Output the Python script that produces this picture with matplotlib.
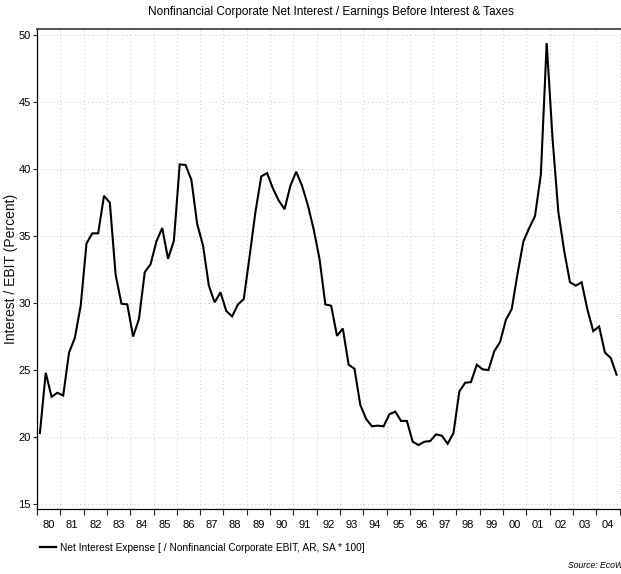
import matplotlib
matplotlib.use("Agg")
import matplotlib.pyplot as plt
from matplotlib import font_manager
from matplotlib.lines import Line2D
import numpy as np
import pandas as pd

# ---- data -------------------------------------------------------------
start_quarter = "1980Q1"
end_quarter = "2004Q4"
interest_to_ebit = [
    20.3, 24.8, 23.0, 23.3, 23.1, 26.3, 27.4, 29.8, 34.45, 35.2,
    35.2, 38.0, 37.5, 32.1, 29.95, 29.9, 27.5, 28.8, 32.3, 32.9,
    34.6, 35.6, 33.3, 34.65, 40.35, 40.3, 39.2, 35.9, 34.3, 31.3,
    30.05, 30.8, 29.4, 29.0, 29.9, 30.3, 33.5, 36.8, 39.45, 39.7,
    38.55, 37.65, 37.0, 38.75, 39.8, 38.75, 37.3, 35.5, 33.3, 29.9,
    29.8, 27.55, 28.1, 25.4, 25.1, 22.4, 21.35, 20.8, 20.85, 20.8,
    21.7, 21.9, 21.2, 21.2, 19.65, 19.4, 19.65, 19.7, 20.2, 20.1,
    19.5, 20.3, 23.4, 24.05, 24.1, 25.4, 25.05, 25.0, 26.4, 27.1,
    28.75, 29.55, 32.2, 34.6, 35.6, 36.5, 39.6, 49.4, 42.3, 36.8,
    33.9, 31.55, 31.3, 31.55, 29.5, 27.9, 28.25, 26.3, 25.9, 24.65,
]
year_ticks = list(range(1980, 2006))
year_labels = ["80", "81", "82", "83", "84", "85", "86", "87", "88", "89",
               "90", "91", "92", "93", "94", "95", "96", "97", "98", "99",
               "00", "01", "02", "03", "04"]
y_ticks = [15, 20, 25, 30, 35, 40, 45, 50]

title = "Nonfinancial Corporate Net Interest / Earnings Before Interest & Taxes"
ylabel = "Interest / EBIT (Percent)"
series_label = "Net Interest Expense [ / Nonfinancial Corporate EBIT, AR, SA * 100]"
source = "Source: EcoWin"

# ---- fonts ------------------------------------------------------------
names = {f.name for f in font_manager.fontManager.ttflist}
narrow = "Liberation Sans Narrow" if "Liberation Sans Narrow" in names else "Liberation Sans"
plt.rcParams["font.family"] = [narrow, "DejaVu Sans"]

# ---- figure -----------------------------------------------------------
W, H = 621, 574
fig = plt.figure(figsize=(W / 100, H / 100), dpi=100)
left, right, top, bottom = 37, 621, 29, 509
ax = fig.add_axes([left / W, 1 - bottom / H, (right - left) / W, (bottom - top) / H])

periods = pd.period_range(start_quarter, end_quarter, freq="Q")
x = periods.year + (periods.quarter - 1) / 4 + 0.125

ax.plot(x, interest_to_ebit, color="black", lw=1.5, solid_joinstyle="miter",
        label=series_label)

px_per_year = 23.3
ax.set_xlim(1980, 1980 + (right - left) / px_per_year)
ax.set_ylim(14.63, 50.45)

ax.set_xticks(year_ticks)
ax.set_xticklabels([])
ax.set_xticks([y + 0.5 for y in year_ticks[:-1]], minor=True)
ax.set_xticklabels(year_labels, minor=True)
ax.tick_params(axis="x", which="major", length=4, width=0.8, direction="out", color="#222222")
ax.tick_params(axis="x", which="minor", length=0, pad=8, labelsize=8)
ax.set_yticks(y_ticks)
ax.tick_params(axis="y", length=3, width=0.8, direction="out", pad=1.5, labelsize=8, color="#222222")

for yr in year_ticks[1:]:
    ax.axvline(yr, color="#c8c8c8", lw=0.7, ls=(0, (1, 3)), zorder=0)
for yv in y_ticks:
    ax.axhline(yv, color="#c8c8c8", lw=0.7, ls=(0, (1, 3)), zorder=0)

ax.spines["right"].set_visible(False)
ax.spines["top"].set_linewidth(1.3)
ax.spines["top"].set_color("#444444")
ax.spines["left"].set_linewidth(0.9)
ax.spines["bottom"].set_linewidth(0.9)

fig.text(331 / W, 1 - 12 / H, title, ha="center", va="center", fontsize=8.5)
fig.text(11.5 / W, 1 - 269 / H, ylabel, rotation=90, ha="center", va="center",
         fontsize=10, color="#111111", family=["Liberation Sans", "DejaVu Sans"])

fig.legend(handles=[Line2D([], [], color="black", lw=1.6)], labels=[series_label],
           loc="center left", bbox_to_anchor=(40 / W, 1 - 548 / H), frameon=False,
           fontsize=7.3, handlelength=1.55, handletextpad=0.4, borderpad=0,
           borderaxespad=0)
fig.text(568 / W, 1 - 566 / H, source, ha="left", va="center", fontsize=6.2, style="italic")

fig.savefig("out.png", dpi=100)
